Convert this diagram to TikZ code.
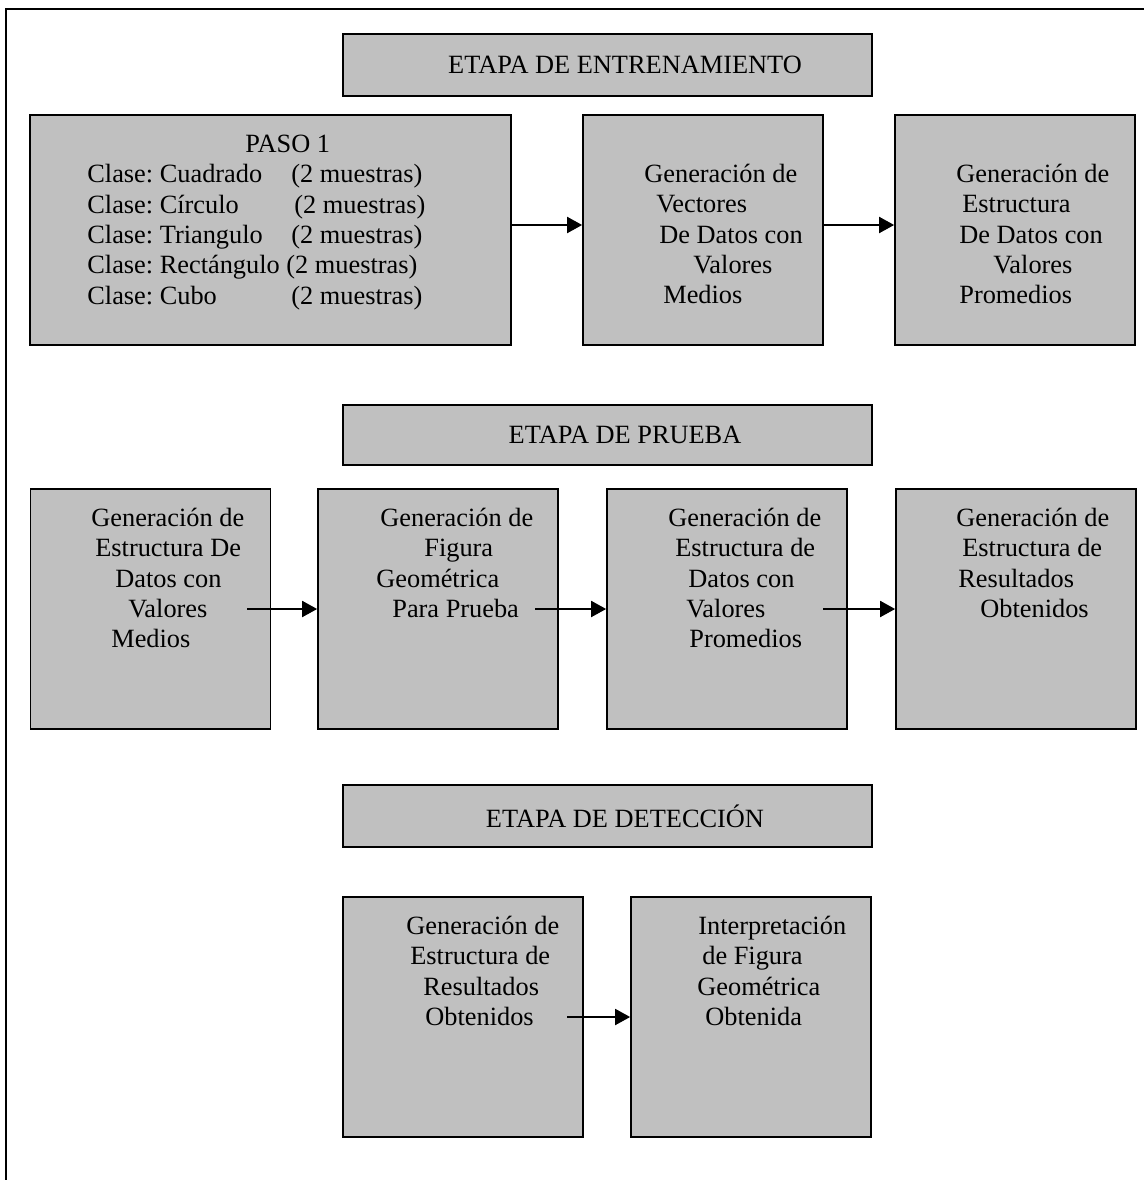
\documentclass[tikz,border=0pt]{standalone}
\usepackage{fontspec}
\setmainfont{Liberation Serif}
\usetikzlibrary{arrows.meta}
\definecolor{boxgray}{RGB}{192,192,192}
\newlength{\pxu}\setlength{\pxu}{0.02cm}
\newcommand{\ind}[1]{\hspace*{#1\pxu}}
\frenchspacing
\tikzset{
  etapa/.style={draw, line width=1pt, fill=boxgray, minimum width=10.58cm, minimum height=1.24cm, inner sep=0pt, font=\fontsize{15}{17.3}\selectfont},
  stepbox/.style={draw, line width=1pt, fill=boxgray, minimum width=4.8cm, minimum height=4.8cm, inner sep=0pt},
  txt/.style={anchor=north west, align=left, inner sep=0pt, font=\fontsize{15}{17.3}\selectfont, execute at begin node={\strut}},
  arr/.style={-{Triangle[length=0.3cm,width=0.32cm]}, line width=1.1pt}
}
\begin{document}
\begin{tikzpicture}[x=0.02cm, y=-0.02cm]
  \useasboundingbox (0,0) rectangle (1144,1180);
  \draw[line width=1.1pt] (6,1180) -- (6,9) -- (1144,9);

  % etapa de entrenamiento
  \node[etapa] (ent) at (607.5,65) {\ind{35}ETAPA DE ENTRENAMIENTO};
  \node[stepbox, minimum width=9.62cm, minimum height=4.6cm] (paso) at (270.5,230) {};
  \node[stepbox, minimum height=4.6cm] (vec) at (703,230) {};
  \node[stepbox, minimum height=4.6cm] (est) at (1015,230) {};
  \node[txt] (pasot) at (87,134.6) {\ind{158}PASO 1\\
    \makebox[204\pxu][l]{Clase: Cuadrado}(2 muestras)\\
    \makebox[207\pxu][l]{Clase: Círculo}(2 muestras)\\
    \makebox[204\pxu][l]{Clase: Triangulo}(2 muestras)\\
    Clase: Rectángulo (2 muestras)\\
    \makebox[204\pxu][l]{Clase: Cubo}(2 muestras)};
  \node[txt] (vect) at (644,163.6) {Generación de\\ \ind{12}Vectores\\ \ind{15}De Datos con\\ \ind{49}Valores\\ \ind{19}Medios};
  \node[txt] (estt) at (956,163.6) {Generación de\\ \ind{6}Estructura\\ \ind{3}De Datos con\\ \ind{37}Valores\\ \ind{3}Promedios};
  \draw[arr] ([yshift=0.1cm]paso.east) -- ([yshift=0.1cm]vec.west);
  \draw[arr] ([yshift=0.1cm]vec.east) -- ([yshift=0.1cm]est.west);

  % etapa de prueba
  \node[etapa, minimum height=1.2cm] (pru) at (607.5,435) {\ind{35}ETAPA DE PRUEBA};
  \node[stepbox] (medios) at (150.5,609) {};
  \node[stepbox] (figura) at (438,609) {};
  \node[stepbox] (prom) at (727,609) {};
  \node[stepbox] (res) at (1016,609) {};
  \node[txt] (mediost) at (91,507.6) {Generación de\\ \ind{4}Estructura De\\ \ind{24}Datos con\\ \ind{37}Valores\\ \ind{20}Medios};
  \node[txt] (figurat) at (376,507.6) {\ind{4}Generación de\\ \ind{48}Figura\\ Geométrica\\ \ind{16}Para Prueba};
  \node[txt] (promt) at (668,507.6) {Generación de\\ \ind{7}Estructura de\\ \ind{20}Datos con\\ \ind{18}Valores\\ \ind{21}Promedios};
  \node[txt] (rest) at (956,507.6) {Generación de\\ \ind{6}Estructura de\\ \ind{2}Resultados\\ \ind{24}Obtenidos};
  \coordinate (p1) at (247,609);
  \coordinate (p2) at (535,609);
  \coordinate (p3) at (823,609);
  \draw[arr] (p1) -- (figura.west |- p1);
  \draw[arr] (p2) -- (prom.west |- p2);
  \draw[arr] (p3) -- (res.west |- p3);

  % etapa de deteccion
  \node[etapa] (det) at (607.5,816) {\ind{35}ETAPA DE DETECCIÓN};
  \node[stepbox] (obt) at (463,1017) {};
  \node[stepbox] (interp) at (751,1017) {};
  \node[txt] (obtt) at (406,915.6) {Generación de\\ \ind{4}Estructura de\\ \ind{17}Resultados\\ \ind{19}Obtenidos};
  \node[txt] (interpt) at (697,915.6) {\ind{1}Interpretación\\ \ind{5}de Figura\\ Geométrica\\ \ind{8}Obtenida};
  \coordinate (d1) at (567,1017);
  \draw[arr] (d1) -- (interp.west |- d1);
\end{tikzpicture}
\end{document}
